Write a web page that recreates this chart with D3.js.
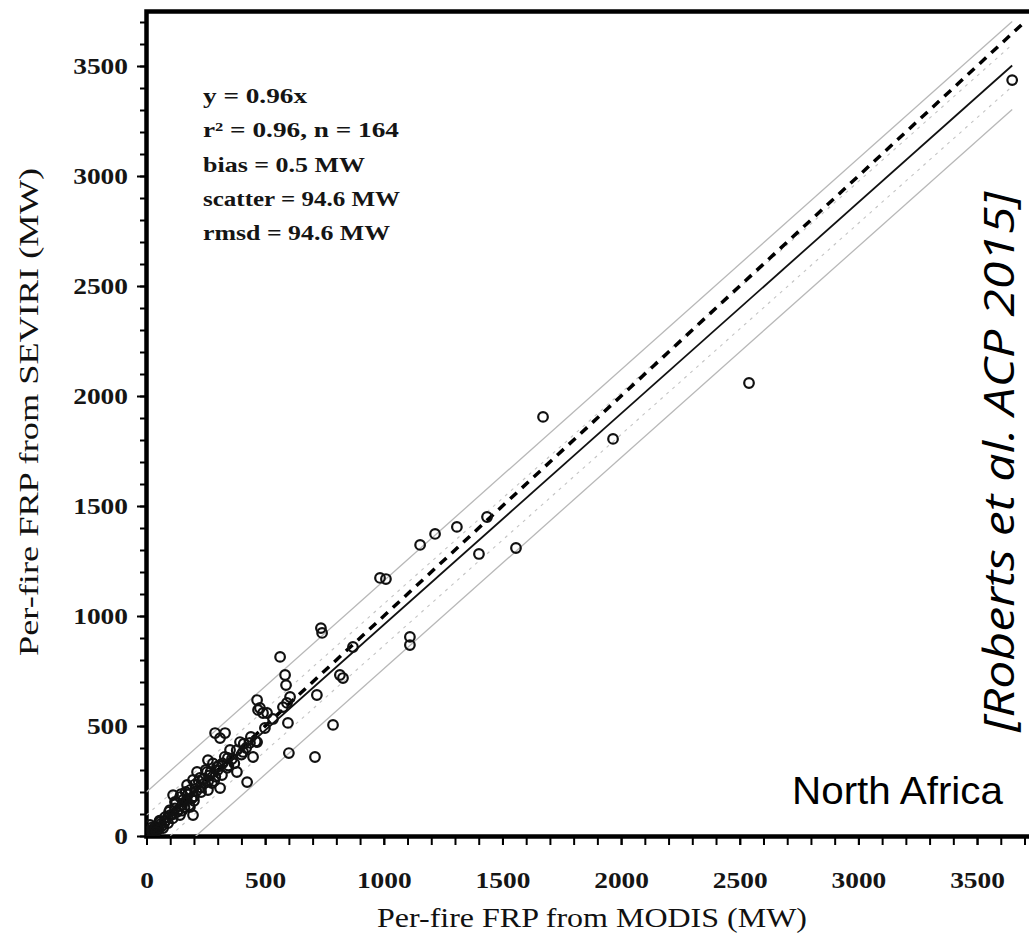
<!DOCTYPE html>
<html><head><meta charset="utf-8">
<script src="https://cdn.jsdelivr.net/npm/d3@7"></script>
<style>html,body{margin:0;padding:0;background:#fff;} svg{display:block;}</style>
</head><body>
<svg id="chart" width="1029" height="935"></svg>
<script>
// ---- data ----
const modisFRP = [3648,2539,1966,1671,1557,1435,1401,1308,1216,1153,1009,984,1110,1110,870,735,740,815,828,718,563,584,588,605,710,600,786,596,466,478,491,533,575,470,592,
 289,331,310,394,436,466,381,424,449,407,343,259,213,255,196,225,276,310,259,171,141,112,154,183,196,141,99,78,57,36,15,70,91,297,318,352,508,499,
 20,30,45,50,60,80,100,110,120,130,150,160,170,200,210,230,240,260,270,290,300,320,340,360,380,400,420,440,460,10,5,15,35,65,90,125,145,165,185,205,250,280,330,370,410,
 25,40,55,75,95,115,135,175,190,220,245,265,285,305,150,180,200,120,230,345];
const seviriFRP = [3436,2059,1805,1905,1309,1450,1282,1405,1373,1323,1168,1173,905,868,859,945,923,732,718,641,814,732,686,632,359,377,505,514,618,582,559,532,586,573,605,
 468,468,445,427,423,427,291,245,359,382,355,345,291,291,255,264,241,218,209,232,177,186,164,132,95,95,118,86,64,41,50,36,59,314,277,391,559,491,
 25,15,40,30,55,70,95,80,125,110,140,130,165,180,205,220,260,250,290,270,300,330,310,350,390,370,400,450,430,10,20,5,30,45,85,150,190,200,210,235,300,330,360,330,420,
 40,20,70,60,110,100,120,190,170,250,240,275,250,320,115,140,160,155,200,320];
const xTicks = [0,500,1000,1500,2000,2500,3000,3500];
const yTicks = [0,500,1000,1500,2000,2500,3000,3500];
const statsLines = ["y = 0.96x","r\u00B2 = 0.96, n = 164","bias = 0.5 MW","scatter = 94.6 MW","rmsd = 94.6 MW"];
const fitSlope = 0.96;
const bandOffsets = [95, 200];     // grey dashed (1 sigma) and grey solid (2 sigma) bands
const fitMaxX = 3648, oneToOneMaxX = 3690;
const regionLabel = "North Africa";
const citation = "[Roberts et al. ACP 2015]";
const xTitle = "Per-fire FRP from MODIS (MW)";
const yTitle = "Per-fire FRP from SEVIRI (MW)";

// ---- layout ----
const svg = d3.select("#chart");
const x = d3.scaleLinear().domain([0,3750]).range([146.5, 146.5 + 3750*0.2373]);
const y = d3.scaleLinear().domain([0,3750]).range([836, 11]);
const serif = "'Liberation Serif','Times New Roman',serif";

svg.append("defs").append("clipPath").attr("id","plotclip")
  .append("rect").attr("x",x(0)).attr("y",y(3750)).attr("width",x(3750)-x(0)).attr("height",y(0)-y(3750));

// minor ticks
const minorVals = d3.range(0,3751,100);
const gyMinor = svg.append("g").attr("transform",`translate(${x(0)},0)`)
  .call(d3.axisLeft(y).tickValues(minorVals).tickSize(6.5).tickFormat(""));
const gxMinor = svg.append("g").attr("transform",`translate(0,${y(0)})`)
  .call(d3.axisBottom(x).tickValues(minorVals.filter(v=>x(v)<1029)).tickSize(9).tickFormat(""));
// major ticks + labels
const gy = svg.append("g").attr("transform",`translate(${x(0)},0)`)
  .call(d3.axisLeft(y).tickValues(yTicks).tickSize(9.5).tickPadding(9).tickFormat(d3.format("d")));
const gx = svg.append("g").attr("transform",`translate(0,${y(0)})`)
  .call(d3.axisBottom(x).tickValues(xTicks).tickSize(9).tickPadding(27).tickFormat(d3.format("d")));
[gyMinor,gxMinor,gy,gx].forEach(g=>{
  g.select(".domain").remove();
  g.selectAll(".tick line").attr("stroke","#000").attr("stroke-width",2);
});
[gy,gx].forEach(g=>{
  g.selectAll(".tick text").attr("font-family",serif).attr("font-size",23).attr("font-weight","bold")
   .attr("fill","#151515")
   .each(function(d){ const s=String(d); d3.select(this).attr("textLength", 13.7*s.length).attr("lengthAdjust","spacingAndGlyphs"); });
});

// frame
svg.append("rect").attr("x",x(0)).attr("y",y(3750)+0.5).attr("width",x(3750)-x(0)).attr("height",y(0)-y(3750))
  .attr("fill","none").attr("stroke","#000").attr("stroke-width",4.5);

// lines
const plot = svg.append("g").attr("clip-path","url(#plotclip)");
const line = d3.line().x(d=>x(d[0])).y(d=>y(d[1]));
bandOffsets.forEach((off,i)=>{
  [1,-1].forEach(sgn=>{
    plot.append("path").attr("d", line([[0, sgn*off],[fitMaxX, fitSlope*fitMaxX + sgn*off]]))
      .attr("fill","none").attr("stroke", i===1 ? "#b8b8b8" : "#c4c4c4")
      .attr("stroke-width", i===1 ? 1.3 : 1.1)
      .attr("stroke-dasharray", i===1 ? null : "3,5");
  });
});
// 1:1 line
plot.append("path").attr("d", line([[0,0],[oneToOneMaxX, oneToOneMaxX]]))
  .attr("fill","none").attr("stroke","#000").attr("stroke-width",3.5).attr("stroke-dasharray","9,7");
// fit line
plot.append("path").attr("d", line([[0,0],[fitMaxX, fitSlope*fitMaxX]]))
  .attr("fill","none").attr("stroke","#111").attr("stroke-width",1.8);

// points
const pts = modisFRP.map((m,i)=>[m, seviriFRP[i]]);
plot.append("g").selectAll("circle").data(pts).join("circle")
  .attr("cx",d=>x(d[0])).attr("cy",d=>y(d[1])).attr("r",4.8)
  .attr("fill","none").attr("stroke","#111").attr("stroke-width",2.2);

// stats text
const statLens = [104,196,162,197,187];
svg.append("g").selectAll("text").data(statsLines).join("text")
  .attr("x",203).attr("y",(d,i)=>103 + 34.25*i)
  .attr("font-family",serif).attr("font-size",21).attr("font-weight","bold").attr("fill","#151515")
  .attr("textLength",(d,i)=>statLens[i]).attr("lengthAdjust","spacingAndGlyphs")
  .text(d=>d);

// region label
svg.append("text").attr("x",792).attr("y",804)
  .attr("font-family","'Liberation Sans',Arial,sans-serif").attr("font-size",39).attr("fill","#000")
  .attr("textLength",211).attr("lengthAdjust","spacingAndGlyphs").text(regionLabel);

// axis titles
svg.append("text").attr("x",377).attr("y",927)
  .attr("font-family",serif).attr("font-size",28).attr("fill","#111")
  .attr("textLength",430).attr("lengthAdjust","spacingAndGlyphs").text(xTitle);
svg.append("text").attr("transform","translate(38,412) rotate(-90)").attr("text-anchor","middle")
  .attr("font-family",serif).attr("font-size",28).attr("fill","#111")
  .attr("textLength",488).attr("lengthAdjust","spacingAndGlyphs").text(yTitle);

// citation
svg.append("text").attr("transform","translate(1014,462) rotate(-90)").attr("text-anchor","middle")
  .attr("font-family","'Open Sans','Noto Sans',sans-serif").attr("font-style","italic").attr("font-size",42).attr("fill","#000")
  .attr("textLength",540).attr("lengthAdjust","spacingAndGlyphs").text(citation);
</script>
</body></html>
